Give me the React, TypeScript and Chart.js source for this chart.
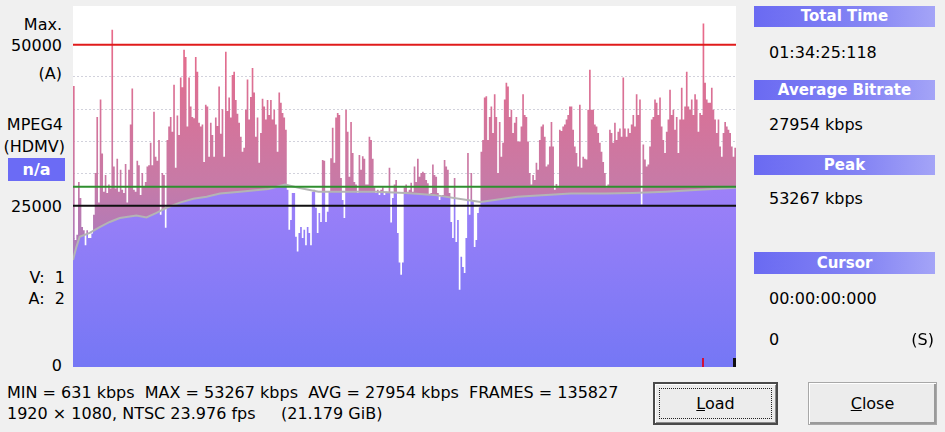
import React, { useEffect, useRef } from 'react';
import { Chart, registerables } from 'chart.js';

Chart.register(...registerables);

// ---- Bitrate per time bucket (kbps), read left to right (4 parts) ----
const BITRATE_PART_1: number[] = [
  43600, 19700, 20500, 28700, 26200, 21700, 21200, 18900, 21200, 20000,
  20000, 20700, 23600, 30100, 38800, 25500, 41500, 33100, 27200, 29800,
  27000, 28300, 27700, 52300, 31100, 27700, 32300, 27200, 30600, 27500,
  27000, 31500, 25500, 30600, 37600, 43200, 27500, 27200, 32000, 31300,
  26700, 30100, 28000, 28700, 31100, 31300, 34800, 31300, 39600, 32600,
  32000, 35200, 23600, 30100, 29800, 21600, 35200, 37300, 38800, 36500,
  43800, 30900, 39000, 36000, 44900, 43400, 49200, 48100, 37300, 44900,
  40400, 38800, 38600, 48100, 45800, 37900, 37300, 37600, 31800, 40700,
  40400, 32600, 37900, 36000, 32600, 38700, 37400, 43500, 36200, 40000,
  32600, 48900, 39700, 41800, 38700, 45300, 45800, 41400, 39300, 37900,
];
const BITRATE_PART_2: number[] = [
  35700, 33400, 34000, 39900, 44600, 38400, 41900, 46400, 42600, 35700,
  38700, 31700, 36300, 41600, 40400, 38400, 41400, 39100, 41400, 38400,
  39900, 37600, 33400, 42600, 41000, 39400, 38700, 36800, 27500, 21300,
  22800, 27000, 27000, 20200, 17900, 20800, 21700, 20000, 21300, 18900,
  21700, 20800, 18900, 27200, 27500, 24700, 20800, 23900, 22500, 32100,
  32000, 22500, 24100, 27200, 32400, 37100, 31700, 38700, 39400, 39100,
  29300, 25900, 23100, 39900, 36500, 29500, 38000, 33200, 28700, 28300,
  27000, 32900, 30600, 32700, 32300, 28300, 28300, 35700, 35200, 32300,
  27900, 27000, 27500, 26700, 27500, 27900, 26700, 27200, 27000, 30900,
  22400, 26200, 28300, 29000, 20800, 16200, 14300, 16200, 27900,
];
const BITRATE_PART_3: number[] = [
  28300, 27200, 27500, 28600, 27200, 31100, 28700, 32300, 29500, 30100,
  30300, 30100, 29000, 28500, 26700, 27000, 31400, 29800, 29500, 27000,
  25900, 26400, 26700, 32100, 31100, 30600, 27000, 22500, 20000, 29300,
  19400, 22800, 12000, 17100, 15500, 14600, 20000, 33200, 23600, 30100,
  25900, 18600, 19700, 23900, 24800, 33400, 35200, 41800, 42000, 35200,
  38800, 40400, 36300, 42300, 38800, 30100, 38000, 32600, 34800, 41500,
  44100, 43500, 38800, 39900, 36300, 37900, 38800, 35000, 35000, 37300,
  42300, 39100, 38800, 35000, 30100, 28300, 29800, 29000, 31700, 30600,
  35200, 37300, 37600, 35700, 31100, 31400, 34200, 38000, 34200, 27500,
  28400, 27900, 36800, 36600, 37300, 37600, 38400, 39100, 40400,
];
const BITRATE_PART_4: number[] = [
  40400, 36800, 34200, 33200, 31100, 40700, 30900, 32600, 32300, 32200,
  39900, 46100, 39900, 39900, 37600, 37300, 36300, 34800, 33400, 31800,
  30100, 27900, 28300, 36800, 36300, 34800, 37900, 35200, 36500, 37000,
  35700, 44900, 37000, 35700, 37000, 36300, 37600, 39100, 37300, 42300,
  39100, 41500, 25200, 34500, 32200, 31100, 31400, 34200, 38400, 38800,
  41500, 41000, 39100, 41800, 37300, 35200, 33200, 36500, 38400, 43000,
  39100, 39900, 36800, 38800, 33200, 38400, 43300, 38400, 40400, 45800,
  40400, 39900, 41500, 39100, 42300, 41500, 36500, 39400, 39100, 53267,
  44100, 41500, 41000, 41000, 43300, 39900, 38400, 36300, 38400, 34200,
  32600, 36300, 38000, 37300, 36800, 36300, 34200, 32600, 34000,
];
const BITRATE_KBPS: number[] = [...BITRATE_PART_1, ...BITRATE_PART_2, ...BITRATE_PART_3, ...BITRATE_PART_4];

// Running (cumulative) average, read at a few bucket positions
const RUNNING_AVG_AT: number[] = [0, 2, 4, 10, 16, 22, 28, 38, 44, 50, 56, 64, 72, 80, 88, 100, 117, 127, 135, 147, 167, 181, 199, 216, 236, 244, 266, 298, 319, 335, 355, 375, 397];
const RUNNING_AVG_KBPS: number[] = [16600, 18600, 20200, 20800, 21700, 22500, 23100, 23500, 23200, 23900, 24700, 25500, 26100, 26400, 26900, 27200, 27600, 28300, 27800, 27200, 27200, 27200, 27000, 26700, 25900, 25600, 26400, 26900, 26900, 27000, 27200, 27500, 27800];

const AVERAGE_KBPS = 27954;
const MAX_LINE_KBPS = 50000;
const TARGET_LINE_KBPS = 25000;
const Y_MAX_KBPS = 56000;
const GRID_KBPS: number[] = [5000, 10000, 15000, 20000, 30000, 35000, 40000, 45000];

const STATS_LINE_1 = 'MIN = 631 kbps  MAX = 53267 kbps  AVG = 27954 kbps  FRAMES = 135827';
const STATS_LINE_2 = '1920 \u00d7 1080, NTSC 23.976 fps';
const STATS_SIZE = '(21.179 GiB)';

const PLOT_W = 663;
const PLOT_H = 361;

const markerPlugin = {
  id: 'posMarkers',
  afterDatasetsDraw(chart: any) {
    const { ctx, chartArea, scales } = chart;
    const xs = scales.x;
    const n = BITRATE_KBPS.length;
    const peak = BITRATE_KBPS.indexOf(Math.max(...BITRATE_KBPS));
    ctx.save();
    const px = Math.round(xs.getPixelForValue(peak + 0.5));
    ctx.fillStyle = '#d0103a';
    ctx.fillRect(px - 1, chartArea.bottom - 9, 2, 9);
    const ex = Math.round(xs.getPixelForValue(n));
    ctx.fillStyle = '#111111';
    ctx.fillRect(ex - 3, chartArea.bottom - 9, 3, 9);
    ctx.restore();
  },
};

function BitrateChart() {
  const ref = useRef<HTMLCanvasElement>(null);
  useEffect(() => {
    const canvas = ref.current!;
    const c2d = canvas.getContext('2d')!;
    const pink = c2d.createLinearGradient(0, 0, 0, PLOT_H);
    pink.addColorStop(0, '#ee6888');
    pink.addColorStop(0.12, '#e46c8c');
    pink.addColorStop(0.48, '#c87aa6');
    pink.addColorStop(0.7, '#a87bc0');
    pink.addColorStop(1, '#8a7ae0');
    const purple = c2d.createLinearGradient(0, 0, 0, PLOT_H);
    purple.addColorStop(0, '#b080f8');
    purple.addColorStop(0.5, '#9d80f8');
    purple.addColorStop(1, '#7577f5');

    const n = BITRATE_KBPS.length;
    const steps = BITRATE_KBPS.map((v, i) => ({ x: i, y: v }));
    steps.push({ x: n, y: BITRATE_KBPS[n - 1] });
    const avgPts = RUNNING_AVG_AT.map((x, i) => ({ x, y: RUNNING_AVG_KBPS[i] }));
    const flat = (v: number) => [{ x: 0, y: v }, { x: n, y: v }];

    const chart = new Chart(canvas, {
      type: 'line',
      data: {
        datasets: [
          { label: 'Average', data: flat(AVERAGE_KBPS), borderColor: '#2f8f2f', borderWidth: 2, fill: false },
          { label: 'Max', data: flat(MAX_LINE_KBPS), borderColor: '#e01b1b', borderWidth: 2, fill: false },
          { label: 'Target', data: flat(TARGET_LINE_KBPS), borderColor: '#111111', borderWidth: 2, fill: false },
          { label: 'Running average', data: avgPts, borderColor: '#b4b4b4', borderWidth: 2, fill: false },
          {
            label: 'Bitrate', data: steps, stepped: 'before', borderWidth: 0, borderColor: 'rgba(0,0,0,0)',
            fill: { target: 5, above: pink, below: '#ffffff' },
          },
          {
            label: 'Running average area', data: avgPts, borderWidth: 0, borderColor: 'rgba(0,0,0,0)',
            backgroundColor: purple, fill: 'origin',
          },
        ] as any,
      },
      options: {
        animation: false,
        responsive: false,
        devicePixelRatio: 1,
        layout: { padding: 0 },
        elements: { point: { radius: 0, hoverRadius: 0 }, line: { tension: 0 } },
        plugins: { legend: { display: false }, tooltip: { enabled: false } },
        events: [],
        scales: {
          x: { type: 'linear', min: 0, max: n, display: false },
          y: {
            type: 'linear', min: 0, max: Y_MAX_KBPS, z: 1,
            afterBuildTicks: (s: any) => { s.ticks = GRID_KBPS.map((v) => ({ value: v })); },
            afterFit: (s: any) => { s.width = 0; },
            ticks: { display: false },
            grid: { color: '#d2d2dc', lineWidth: 1, drawTicks: false },
            border: { display: false, dash: [2, 2] },
          },
        },
      } as any,
      plugins: [markerPlugin],
    });
    return () => chart.destroy();
  }, []);
  return (
    <canvas
      ref={ref}
      width={PLOT_W}
      height={PLOT_H}
      style={{ position: 'absolute', left: 73, top: 6, width: PLOT_W, height: PLOT_H, background: '#ffffff' }}
    />
  );
}

function Txt(props: { x: number; cy: number; right?: boolean; bold?: boolean; size?: number; color?: string; children: React.ReactNode }) {
  const { x, cy, right, bold, size, color, children } = props;
  const style: React.CSSProperties = {
    position: 'absolute', top: cy - 10, height: 20, lineHeight: '20px', whiteSpace: 'pre',
    fontWeight: bold ? 'bold' : 'normal', fontSize: size || 16, color: color || '#000',
  };
  if (right) { style.left = x - 300; style.width = 300; style.textAlign = 'right'; }
  else { style.left = x; }
  return <div style={style}>{children}</div>;
}

function Header(props: { cy0: number; cy1: number; text: string }) {
  return (
    <div style={{
      position: 'absolute', left: 754, top: props.cy0, width: 181, height: props.cy1 - props.cy0,
      background: 'linear-gradient(to right, #6a6af2, #8484f4 60%, #a4a4f7)',
      color: '#fff', fontWeight: 'bold', fontSize: 15, textAlign: 'center',
      lineHeight: `${props.cy1 - props.cy0}px`,
    }}>{props.text}</div>
  );
}

function Button(props: { x: number; w: number; isDefault?: boolean; first: string; rest: string }) {
  const { x, w, isDefault, first, rest } = props;
  return (
    <div style={{
      position: 'absolute', left: x, top: 382, width: w, height: 43, boxSizing: 'border-box',
      border: isDefault ? '2px solid #4a4a4a' : '1px solid #a8a8a8',
      boxShadow: isDefault ? 'inset 1px 1px 0 #ffffff, inset -1px -1px 0 #8a8a8a' : 'inset 1px 1px 0 #ffffff, inset -2px -2px 0 #9a9a9a',
      background: '#ececec', textAlign: 'center', lineHeight: isDefault ? '39px' : '41px', fontSize: 16, color: '#000',
    }}>
      {isDefault && (
        <div style={{ position: 'absolute', left: 4, top: 4, right: 4, bottom: 4, border: '1px dotted #222' }} />
      )}
      <span style={{ position: 'relative' }}><u>{first}</u>{rest}</span>
    </div>
  );
}

export default function App() {
  return (
    <div style={{
      position: 'fixed', left: 0, top: 0, width: 945, height: 432, overflow: 'hidden',
      background: '#f0f0f0', fontFamily: '"DejaVu Sans", sans-serif', fontSize: 16, color: '#000',
    }}>
      <BitrateChart />

      <Txt x={62} cy={25} right>Max.</Txt>
      <Txt x={62} cy={46} right>50000</Txt>
      <Txt x={62} cy={74} right>(A)</Txt>
      <Txt x={63} cy={125} right>MPEG4</Txt>
      <Txt x={65} cy={147} right>(HDMV)</Txt>
      <div style={{
        position: 'absolute', left: 8, top: 158, width: 57, height: 23, background: '#6b6bf5',
        color: '#fff', fontWeight: 'bold', fontSize: 16, textAlign: 'center', lineHeight: '23px',
      }}>n/a</div>
      <Txt x={62} cy={207} right>25000</Txt>
      <Txt x={65} cy={278} right>{'V:  1'}</Txt>
      <Txt x={65} cy={299} right>{'A:  2'}</Txt>
      <Txt x={62} cy={366} right>0</Txt>

      <Txt x={7} cy={393}>{STATS_LINE_1}</Txt>
      <Txt x={7} cy={414}>{STATS_LINE_2}</Txt>
      <Txt x={281} cy={414}>{STATS_SIZE}</Txt>

      <Header cy0={6} cy1={27} text="Total Time" />
      <Txt x={769} cy={53}>01:34:25:118</Txt>
      <Header cy0={80} cy1={100} text="Average Bitrate" />
      <Txt x={769} cy={125}>27954 kbps</Txt>
      <Header cy0={155} cy1={175} text="Peak" />
      <Txt x={769} cy={199}>53267 kbps</Txt>
      <Header cy0={252} cy1={274} text="Cursor" />
      <Txt x={769} cy={299}>00:00:00:000</Txt>
      <Txt x={769} cy={340}>0</Txt>
      <Txt x={934} cy={340} right>(S)</Txt>

      <Button x={653} w={125} isDefault first="L" rest="oad" />
      <Button x={808} w={129} first="C" rest="lose" />
    </div>
  );
}
